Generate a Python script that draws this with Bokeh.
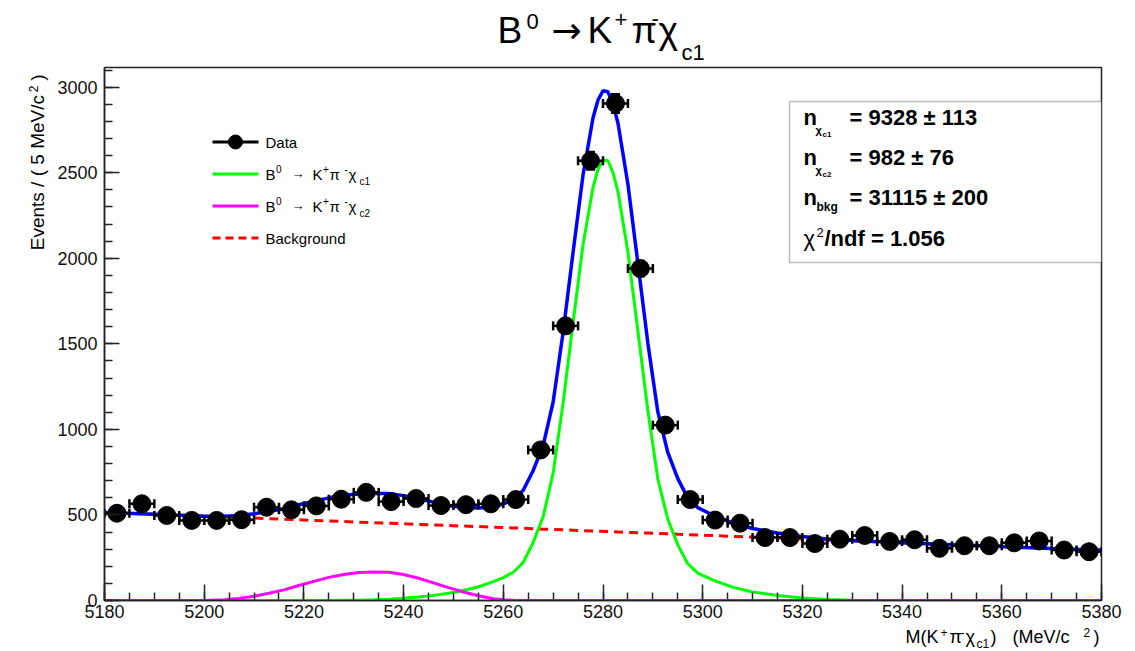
import numpy as np
from bokeh.plotting import figure
from bokeh.layouts import column, row
from bokeh.models import Range1d, FixedTicker, Label, BoxAnnotation
from bokeh.embed import file_html
from bokeh.resources import INLINE

# ---------------------------------------------------------------------------
# Binned candidates: M(K+ pi- chi_c1), 5 MeV/c^2 bins
mass_bins = [5182.5, 5187.5, 5192.5, 5197.5, 5202.5, 5207.5, 5212.5, 5217.5,
             5222.5, 5227.5, 5232.5, 5237.5, 5242.5, 5247.5, 5252.5, 5257.5,
             5262.5, 5267.5, 5272.5, 5277.5, 5282.5, 5287.5, 5292.5, 5297.5,
             5302.5, 5307.5, 5312.5, 5317.5, 5322.5, 5327.5, 5332.5, 5337.5,
             5342.5, 5347.5, 5352.5, 5357.5, 5362.5, 5367.5, 5372.5, 5377.5]
events = [510, 565, 497, 468, 468, 472, 545, 530,
          553, 592, 632, 578, 596, 555, 560, 565,
          590, 880, 1605, 2570, 2905, 1940, 1025, 590,
          470, 452, 368, 368, 333, 358, 380, 345,
          355, 305, 320, 320, 337, 348, 295, 285]
bin_half_width = 2.5

# Fit components evaluated on a common mass grid (events per 5 MeV/c^2)
fit_mass = [5180, 5190, 5200, 5204, 5207, 5210, 5213, 5216, 5219, 5222, 5225,
            5228, 5231, 5234, 5237, 5240, 5243, 5246, 5249, 5252, 5255, 5258,
            5260, 5262, 5264, 5266, 5268, 5270, 5272, 5274, 5276, 5278, 5279,
            5280, 5281, 5282, 5283, 5285, 5287, 5289, 5291, 5293, 5295, 5297,
            5299, 5302, 5306, 5310, 5315, 5320, 5325, 5330, 5340, 5350, 5360,
            5370, 5380]
chic1_curve = [0, 0, 0, 0, 0, 0, 0, 0, 0, 0, 0,
               1, 2, 4, 8, 13, 20, 30, 42, 58, 80, 110,
               134, 165, 222, 340, 490, 745, 1155, 1625, 2080, 2415, 2520,
               2575, 2570, 2500, 2390, 2035, 1575, 1110, 710, 475, 325, 215,
               160, 120, 78, 50, 29, 14, 6, 2, 0, 0, 0,
               0, 0]
chic2_curve = [0, 0, 0, 5, 12, 25, 42, 62, 88, 112, 135,
               152, 163, 167, 165, 152, 130, 103, 75, 50, 28, 10,
               4, 1, 0, 0, 0, 0, 0, 0, 0, 0, 0,
               0, 0, 0, 0, 0, 0, 0, 0, 0, 0, 0,
               0, 0, 0, 0, 0, 0, 0, 0, 0, 0, 0,
               0, 0]
bkg_curve = [515, 504, 493, 488, 485, 482, 478, 475, 472, 468, 465,
             462, 458, 455, 452, 448, 445, 442, 438, 435, 432, 428,
             426, 424, 422, 420, 417, 415, 413, 411, 408, 406, 405,
             404, 403, 402, 401, 398, 396, 394, 392, 390, 387, 385,
             383, 380, 375, 371, 365, 360, 354, 348, 337, 326, 315,
             304, 293]

x_major = [5180, 5200, 5220, 5240, 5260, 5280, 5300, 5320, 5340, 5360, 5380]
x_minor = list(range(5180, 5381, 5))
y_major = [0, 500, 1000, 1500, 2000, 2500, 3000]
y_minor = list(range(0, 3101, 100))

# ---------------------------------------------------------------------------
# page geometry (canvas pixels)
W, H = 1135, 651
TITLE_H = 66                  # title strip on top
YLAB_W = 50                   # strip holding the rotated y-axis title
XLAB_H = 25                   # strip holding the x-axis title
FL, FR, FT, FB = 104, 1101, 67, 600          # plotting frame edges
X0, X1 = 5180, 5380
Y0, Y1 = 0, 3115

FONT = "Liberation Sans"
BLUE, GREEN, MAGENTA, RED = "#0000ff", "#00ff00", "#ff00ff", "#ff0000"
BASE_SHIFT = 0.35             # label anchor sits this many em above the baseline


def frame_xy(px, py):
    """canvas pixel -> (mass, events) inside the plotting frame"""
    return (X0 + (px - FL) * (X1 - X0) / (FR - FL),
            Y0 + (FB - py) * (Y1 - Y0) / (FB - FT))


def strip_xy(px, py):
    """text strips use the page's pixel coordinates directly"""
    return px, py


def put(fig, to_xy, s, px, py, size, bold=False, vertical=False, font=FONT):
    """place text so that its baseline starts at canvas pixel (px, py)"""
    if vertical:
        px -= BASE_SHIFT * size
    else:
        py -= BASE_SHIFT * size
    x, y = to_xy(px, py)
    fig.add_layout(Label(x=x, y=y, text=s, text_font=font,
                         text_font_size=f"{size}px",
                         text_font_style="bold" if bold else "normal",
                         text_align="left", text_baseline="alphabetic",
                         angle=np.pi / 2 if vertical else 0.0,
                         text_color="black"))


def text_strip(left, top, w, h):
    """blank canvas whose data coordinates are the page's pixel coordinates"""
    f = figure(width=w, height=h, x_range=Range1d(left, left + w),
               y_range=Range1d(top + h, top), output_backend="svg",
               toolbar_location=None, x_axis_location=None, y_axis_location=None,
               min_border_left=0, min_border_right=0, min_border_top=0,
               min_border_bottom=0, background_fill_color="white",
               border_fill_color="white", outline_line_color=None)
    f.xgrid.visible = False
    f.ygrid.visible = False
    return f


# ---------------------------------------------------------------------------
main_h = H - TITLE_H - XLAB_H
p = figure(width=W - YLAB_W, height=main_h,
           x_range=Range1d(X0, X1), y_range=Range1d(Y0, Y1),
           output_backend="svg", toolbar_location=None,
           min_border_left=FL - YLAB_W, min_border_right=W - FR,
           min_border_top=FT - TITLE_H, min_border_bottom=main_h - (FB - TITLE_H),
           background_fill_color="white", border_fill_color="white")
p.grid.visible = False
p.outline_line_color = "#222222"
p.outline_line_width = 1.5

p.xaxis.ticker = FixedTicker(ticks=x_major, minor_ticks=x_minor)
p.yaxis.ticker = FixedTicker(ticks=y_major, minor_ticks=y_minor)
for ax, major_in, minor_in, standoff in ((p.xaxis, 16, 8, 4), (p.yaxis, 15, 8, 7)):
    ax.major_tick_in = major_in
    ax.major_tick_out = 0
    ax.minor_tick_in = minor_in
    ax.minor_tick_out = 0
    ax.major_tick_line_color = "#222222"
    ax.minor_tick_line_color = "#222222"
    ax.major_tick_line_width = 1.5
    ax.minor_tick_line_width = 1.5
    ax.axis_line_color = "#222222"
    ax.axis_line_width = 1.5
    ax.major_label_text_font = FONT
    ax.major_label_text_font_size = "18px"
    ax.major_label_text_color = "#111111"
    ax.major_label_standoff = standoff

# fit components and total
total_curve = [b + s1 + s2 for b, s1, s2 in zip(bkg_curve, chic1_curve, chic2_curve)]

p.line(fit_mass, bkg_curve, line_color=RED, line_width=3, line_dash="9 6")
p.line(fit_mass, chic1_curve, line_color=GREEN, line_width=3)
p.line(fit_mass, chic2_curve, line_color=MAGENTA, line_width=3)
p.line(fit_mass, total_curve, line_color=BLUE, line_width=3.5)

# data points with error bars
m = np.array(mass_bins)
n = np.array(events, dtype=float)
err = np.sqrt(n)
p.segment(x0=m - bin_half_width, y0=n, x1=m + bin_half_width, y1=n,
          line_color="black", line_width=2.5)
p.segment(x0=m, y0=n - err, x1=m, y1=n + err, line_color="black", line_width=2.5)
p.scatter(np.concatenate([m - bin_half_width, m + bin_half_width]),
          np.concatenate([n, n]), marker="dash", size=9, angle=np.pi / 2,
          line_color="black", line_width=2.5)
p.scatter(np.concatenate([m, m]), np.concatenate([n - err, n + err]),
          marker="dash", size=9, line_color="black", line_width=2.5)
p.scatter(m, n, marker="circle", size=18, fill_color="black", line_color="black")


def txt(s, px, py, size, bold=False, font=FONT):
    put(p, frame_xy, s, px, py, size, bold, font=font)


# legend
leg_x0, leg_x1 = 212, 258
rows = [141.5, 173.5, 205.5, 237.5]
lx0, _ = frame_xy(leg_x0, 0)
lx1, _ = frame_xy(leg_x1, 0)
ly = [frame_xy(0, r)[1] for r in rows]
p.segment(x0=[lx0] * 3, y0=ly[:3], x1=[lx1] * 3, y1=ly[:3],
          line_color=["black", GREEN, MAGENTA], line_width=3)
p.scatter([frame_xy(235, 0)[0]], [ly[0]], marker="circle", size=14, color="black")
p.segment(x0=[lx0], y0=[ly[3]], x1=[lx1], y1=[ly[3]],
          line_color=RED, line_width=3, line_dash="8 5")

txt("Data", 265, rows[0] + 5.5, 15)
for r, sub in ((rows[1], "c1"), (rows[2], "c2")):
    b = r + 5.5
    txt("B", 265, b, 15)
    txt("0", 275.5, b - 7, 10)
    txt("\u2192", 291, b - 1, 13)
    txt("K", 312, b, 15)
    txt("+", 322.5, b - 7, 10)
    txt("\u03c0", 329, b, 15)
    txt("-", 344, b - 7, 10)
    txt("\u03c7", 348, b, 15)
    txt(sub, 359, b + 5, 10)
txt("Background", 265, rows[3] + 5.5, 15)

# fit summary box
bx0, by0 = frame_xy(789, 101)
bx1, by1 = frame_xy(FR, 262)
p.add_layout(BoxAnnotation(left=bx0, right=bx1, top=by0, bottom=by1,
                           fill_color="white", fill_alpha=1.0,
                           line_color="#222222", line_width=1.5))
txt("n", 803, 125, 22, bold=True)
txt("\u03c7", 815, 133, 11, bold=True)
txt("c1", 822, 137, 8, bold=True)
txt("=  9328 \u00b1 113", 849, 125, 22, bold=True)
txt("n", 803, 165, 22, bold=True)
txt("\u03c7", 815, 173, 11, bold=True)
txt("c2", 822, 177, 8, bold=True)
txt("=  982 \u00b1 76", 849, 165, 22, bold=True)
txt("n", 803, 205, 22, bold=True)
txt("bkg", 816, 211, 12, bold=True)
txt("=  31115 \u00b1 200", 849, 205, 22, bold=True)
txt("\u03c7", 803, 246, 22)
txt("2", 816, 237, 13)
txt("/ndf = 1.056", 824, 246, 22, bold=True)

# ---------------------------------------------------------------------------
# title strip
title = text_strip(0, 0, W, TITLE_H)
for s, x, y, size, font in (("B", 497, 43, 37, FONT),
                            ("0", 526, 29, 22, FONT),
                            ("\u2192", 551, 43, 36, "DejaVu Sans"),
                            ("K", 587, 43, 37, FONT),
                            ("+", 614, 27, 22, FONT),
                            ("\u03c0", 631, 43, 37, FONT),
                            ("-", 651, 26, 22, FONT),
                            ("\u03c7", 658, 43, 37, FONT),
                            ("c1", 681, 60, 22, FONT)):
    put(title, strip_xy, s, x, y, size, font=font)

# y-axis title strip (text reads upwards)
ylab = text_strip(0, TITLE_H, YLAB_W, main_h)
put(ylab, strip_xy, "Events / ( 5 MeV/c", 44, 258, 19, vertical=True)
put(ylab, strip_xy, "2", 37, 92, 12, vertical=True)
put(ylab, strip_xy, ")", 44, 80, 19, vertical=True)

# x-axis title strip
xlab = text_strip(0, H - XLAB_H, W, XLAB_H)
for s, x, y, size in (("M(K", 905, 643, 18), ("+", 940, 636, 12),
                      ("\u03c0", 949, 643, 18), ("-", 960, 636, 12),
                      ("\u03c7", 965, 643, 18), ("c1", 976, 648, 12),
                      (")", 990, 643, 18), ("(MeV/c", 1012, 643, 18),
                      ("2", 1083, 636, 12), (")", 1093, 643, 18)):
    put(xlab, strip_xy, s, x, y, size)

page = column(title, row(ylab, p), xlab)
open("out.html", "w").write(file_html(page, INLINE))
